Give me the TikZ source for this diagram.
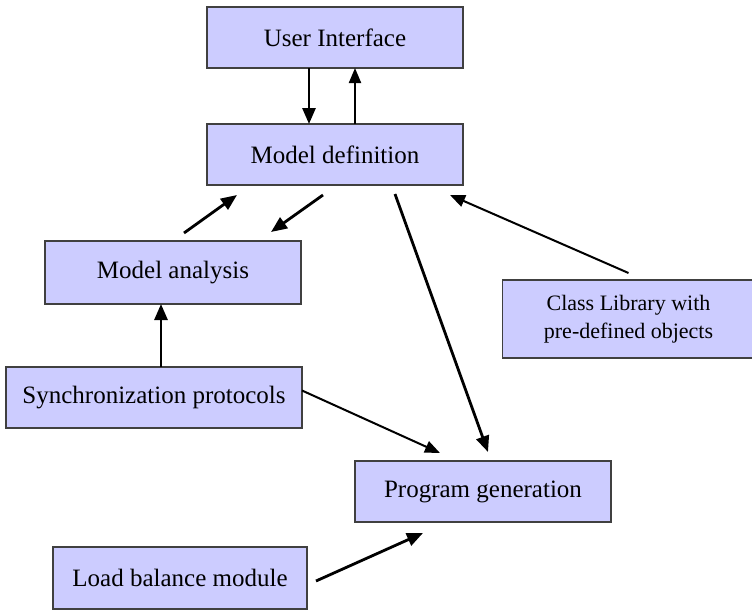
\documentclass[tikz,border=0pt]{standalone}
\usepackage{fontspec}
\setmainfont{Liberation Serif}
\usetikzlibrary{arrows.meta}
\definecolor{boxfill}{HTML}{CCCCFF}
\definecolor{boxline}{HTML}{404040}
\tikzset{
  box/.style={draw=boxline, line width=1.3pt, fill=boxfill, inner sep=0pt, outer sep=0pt,
    font=\fontsize{25}{28}\selectfont, align=center},
  thickarr/.style={line width=2.8pt, -{Triangle[length=16pt,width=13pt]}},
  thinarr/.style={line width=2pt, -{Triangle[length=15pt,width=12pt]}}
}
\begin{document}
\begin{tikzpicture}[x=1pt,y=-1pt]
\useasboundingbox (0,0) rectangle (752,611);
\node[box, minimum width=256pt, minimum height=61pt] (ui) at (335,37.5) {User Interface};
\node[box, minimum width=256pt, minimum height=61pt] (md) at (335,154.5) {Model definition};
\node[box, minimum width=256pt, minimum height=63pt] (ma) at (173,272.5) {Model analysis};
\node[box, minimum width=252pt, minimum height=78pt, font=\fontsize{22}{28}\selectfont] (cl) at (628.5,319) {Class Library with\\pre-defined objects};
\node[box, minimum width=296pt, minimum height=61pt] (sy) at (154,397.5) {Synchronization protocols};
\node[box, minimum width=256pt, minimum height=61pt] (pg) at (483,491.5) {Program generation};
\node[box, minimum width=254pt, minimum height=62pt] (lb) at (180,578) {Load balance module};

\draw[thickarr] ([xshift=-26pt]ui.south) -- ([xshift=-26pt]md.north);
\draw[thinarr] ([xshift=20pt]md.north) -- ([xshift=20pt]ui.south);
\draw[thickarr] ([shift={(11,-8)}]ma.north) -- ([shift={(-98,10)}]md.south);
\draw[thickarr] ([shift={(-12,10)}]md.south) -- ([shift={(98,-9)}]ma.north);
\draw[thickarr] ([shift={(7,0)}]sy.north) -- ([shift={(-12,0)}]ma.south);
\draw[thickarr] ([shift={(60,9)}]md.south) -- ([shift={(5,-9)}]pg.north);
\draw[thinarr] ([shift={(0,-7)}]cl.north) -- ([shift={(115,10)}]md.south);
\draw[thinarr] ([shift={(0,-7)}]sy.east) -- ([shift={(-43,-8)}]pg.north);
\draw[thickarr] ([shift={(9,3)}]lb.east) -- ([shift={(-60,11)}]pg.south);
\end{tikzpicture}
\end{document}
